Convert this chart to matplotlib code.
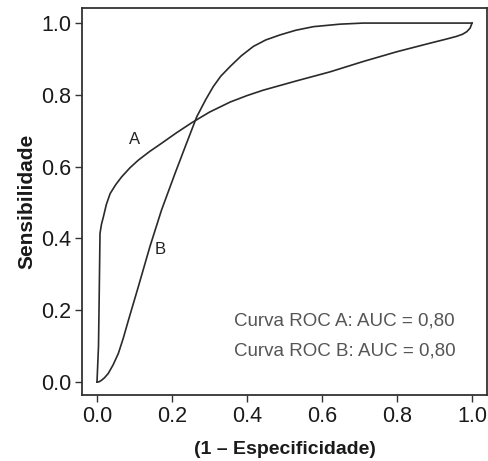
import matplotlib
matplotlib.use("Agg")
import matplotlib.pyplot as plt

# ROC curve A (1 - specificity, sensitivity)
roc_a_x = [0.0, 0.004, 0.006, 0.008, 0.012, 0.017, 0.025, 0.035, 0.05, 0.066, 0.088, 0.11, 0.14, 0.172,
           0.21, 0.252, 0.3, 0.355, 0.4, 0.443, 0.532, 0.621, 0.71, 0.799, 0.888, 0.93, 0.959, 0.975,
           0.986, 0.995, 1.0]
roc_a_y = [0.0, 0.1, 0.25, 0.414, 0.44, 0.46, 0.495, 0.525, 0.55, 0.572, 0.597, 0.618, 0.642, 0.665,
           0.693, 0.722, 0.752, 0.78, 0.798, 0.813, 0.839, 0.864, 0.893, 0.92, 0.944, 0.955, 0.963,
           0.969, 0.976, 0.986, 1.0]

# ROC curve B
roc_b_x = [0.0, 0.006, 0.012, 0.02, 0.03, 0.043, 0.057, 0.07, 0.084, 0.11, 0.141, 0.172, 0.208, 0.235,
           0.266, 0.29, 0.31, 0.33, 0.355, 0.385, 0.417, 0.45, 0.488, 0.53, 0.577, 0.648, 0.71, 1.0]
roc_b_y = [0.0, 0.001, 0.005, 0.012, 0.024, 0.048, 0.08, 0.122, 0.173, 0.265, 0.377, 0.479, 0.581, 0.655,
           0.739, 0.787, 0.823, 0.852, 0.879, 0.909, 0.935, 0.953, 0.967, 0.98, 0.99, 0.997, 1.0, 1.0]

curve_labels = ["A", "B"]
curve_label_pos_x = [0.10, 0.168]
curve_label_pos_y = [0.675, 0.37]

x_ticks = [0.0, 0.2, 0.4, 0.6, 0.8, 1.0]
y_ticks = [0.0, 0.2, 0.4, 0.6, 0.8, 1.0]
tick_labels = ["0.0", "0.2", "0.4", "0.6", "0.8", "1.0"]

legend_lines = ["Curva ROC A: AUC = 0,80", "Curva ROC B: AUC = 0,80"]

x_label = "(1 – Especificidade)"
y_label = "Sensibilidade"

plt.rcParams['font.family'] = ['Liberation Sans', 'DejaVu Sans']

fig = plt.figure(figsize=(4.89, 4.61), dpi=100)
ax = fig.add_axes([82 / 489, 1 - 395 / 461, (487 - 82) / 489, (395 - 8) / 461])

line_color = "#2a2a2a"
ax.plot(roc_a_x, roc_a_y, color=line_color, lw=1.2)
ax.plot(roc_b_x, roc_b_y, color=line_color, lw=1.2)

for lab, lx, ly in zip(curve_labels, curve_label_pos_x, curve_label_pos_y):
    ax.text(lx, ly, lab, fontsize=12, color="#222222", ha="center", va="center")

ax.set_xlim(-0.04, 1.04)
ax.set_ylim(-0.036, 1.042)
ax.set_xticks(x_ticks)
ax.set_xticklabels(tick_labels)
ax.set_yticks(y_ticks)
ax.set_yticklabels(tick_labels)
ax.tick_params(axis="both", direction="out", length=5, width=1.0, colors="#333333",
               labelsize=15.5, labelcolor="#1a1a1a", pad=3)

for sp in ax.spines.values():
    sp.set_color("#333333")
    sp.set_linewidth(1.3)

ax.text(0.365, 0.17, legend_lines[0], fontsize=13.5, color="#555555", ha="left", va="center")
ax.text(0.365, 0.087, legend_lines[1], fontsize=13.5, color="#555555", ha="left", va="center")

ax.set_xlabel(x_label, fontsize=14, fontweight="bold", color="#1a1a1a", labelpad=10)
ax.set_ylabel(y_label, fontsize=15, fontweight="bold", color="#1a1a1a", labelpad=3)

fig.savefig("out.png", dpi=100)
